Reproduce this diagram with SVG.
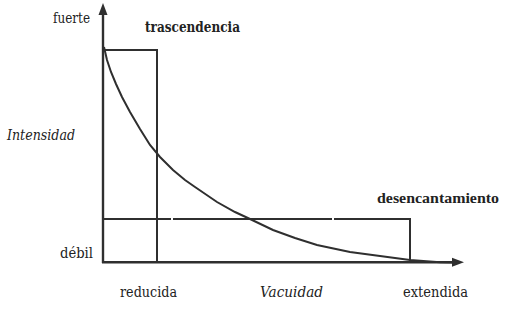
<svg xmlns="http://www.w3.org/2000/svg" width="507" height="309" viewBox="0 0 507 309">
<style>
.ln{fill:none;stroke:#2f2f2f;stroke-width:2;stroke-linecap:butt}
.ax{fill:none;stroke:#2f2f2f;stroke-width:2.4}
.t{font-family:"DejaVu Serif","Liberation Serif",serif;font-size:14px;fill:#222}
.n{font-family:"Liberation Serif","DejaVu Serif",serif;font-size:14.5px}
.b{font-weight:bold}
.i{font-style:italic}
</style>
<rect width="507" height="309" fill="#fff"/>
<g id="connectors">
<g id="axes">
<path class="ax" d="M103,263 V13"/>
<polygon points="103,3 98.5,15 107.5,15" fill="#2f2f2f"/>
<path class="ax" d="M102,262.3 H454"/>
<polygon points="464,262.3 452,257.8 452,266.8" fill="#2f2f2f"/>
</g>
<g id="trascendencia-box">
<path class="ln" d="M103,50 H157 V262"/>
</g>
<g id="desencantamiento-box">
<path class="ln" d="M103,219 H171 M173,219 H332 M334,219 H410 V262"/>
</g>
<g id="curve">
<path class="ln" d="M104,47 L107,60 L111,72 L116,84 L122,97 L130,112 L140,129 L150,145 L160,157 L173,170 L185,180 L195,187 L217,202 L235,212 L250,219 L273,230 L295,238 L317,245 L350,252 L380,256 L410,260 L440,262.3 L452,262.5"/>
</g>
</g>
<g id="labels">
<text class="t" x="53" y="23" textLength="37" lengthAdjust="spacingAndGlyphs">fuerte</text>
<text class="t b" x="145" y="32" textLength="95" lengthAdjust="spacingAndGlyphs">trascendencia</text>
<text class="t i" x="7" y="140" textLength="68" lengthAdjust="spacingAndGlyphs">Intensidad</text>
<text class="t" x="60" y="258" textLength="33" lengthAdjust="spacingAndGlyphs">débil</text>
<text class="t n b" x="377" y="203" textLength="122" lengthAdjust="spacingAndGlyphs">desencantamiento</text>
<text class="t" x="120" y="297" textLength="57" lengthAdjust="spacingAndGlyphs">reducida</text>
<text class="t i" x="260" y="297" textLength="63" lengthAdjust="spacingAndGlyphs">Vacuidad</text>
<text class="t" x="403" y="297" textLength="65" lengthAdjust="spacingAndGlyphs">extendida</text>
</g>
</svg>
